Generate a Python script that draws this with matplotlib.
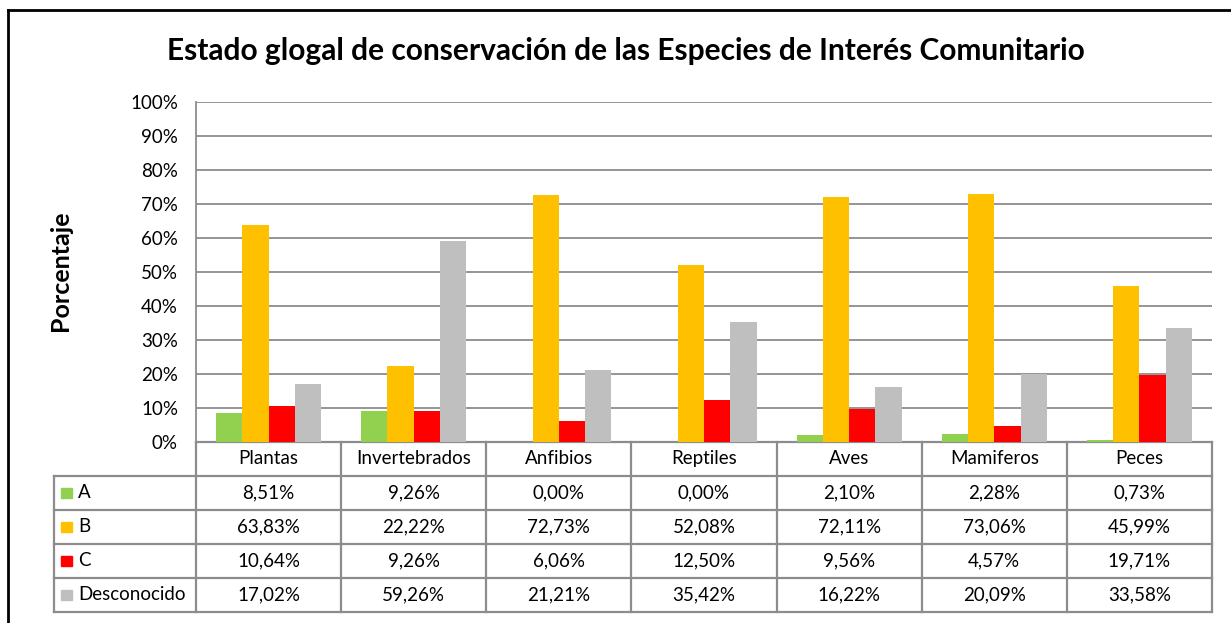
import matplotlib
matplotlib.use("Agg")
import matplotlib.pyplot as plt
from matplotlib.lines import Line2D
from matplotlib.patches import Rectangle
import numpy as np

plt.rcParams['font.family'] = ['Lato', 'DejaVu Sans']

categories = ["Plantas", "Invertebrados", "Anfibios", "Reptiles", "Aves", "Mamiferos", "Peces"]
series_names = ["A", "B", "C", "Desconocido"]
vals_a = [8.51, 9.26, 0.00, 0.00, 2.10, 2.28, 0.73]
vals_b = [63.83, 22.22, 72.73, 52.08, 72.11, 73.06, 45.99]
vals_c = [10.64, 9.26, 6.06, 12.50, 9.56, 4.57, 19.71]
vals_d = [17.02, 59.26, 21.21, 35.42, 16.22, 20.09, 33.58]
yticks = [0, 10, 20, 30, 40, 50, 60, 70, 80, 90, 100]

colors = ["#92D050", "#FFC000", "#FF0000", "#BFBFBF"]
series = [vals_a, vals_b, vals_c, vals_d]
grid_col = "#8c8c8c"
fs = 13.5

W, H = 1231, 623
fig = plt.figure(figsize=(W / 100, H / 100), dpi=100)

# plot area in pixels
x0, x1, ytop, ybot = 196, 1212, 102, 442
ax = fig.add_axes([x0 / W, 1 - ybot / H, (x1 - x0) / W, (ybot - ytop) / H])

n = len(categories)
x = np.arange(n)
bw = 0.181
for k, (vals, col) in enumerate(zip(series, colors)):
	ax.bar(x + (k - 1.5) * bw, vals, width=bw, color=col, zorder=3)

ax.set_xlim(-0.5, n - 0.5)
ax.set_ylim(0, 100)
ax.set_yticks(yticks)
ax.set_yticklabels(["%d%%" % t for t in yticks], fontsize=fs)
ax.set_xticks([])
ax.tick_params(axis='y', length=0, pad=13)
ax.yaxis.grid(True, color=grid_col, lw=1.3, zorder=0)
for s in ["top", "right", "bottom"]:
	ax.spines[s].set_visible(False)
ax.spines["left"].set_color(grid_col)
ax.spines["left"].set_linewidth(1.3)

fig.text(60 / W, 1 - 271 / H, "Porcentaje", rotation=90, ha="center", va="center",
		 fontsize=18, fontweight="bold")

fig.text(626 / W, 1 - 51 / H, "Estado glogal de conservación de las Especies de Interés Comunitario",
		 ha="center", va="center", fontsize=21.5, fontweight="bold")

# data table below the axis (x in data units, y in axes fraction)
tr = ax.get_xaxis_transform()
rh = 34.0 / (ybot - ytop)
left = -0.5 - 142.0 / 145.14
lkw = dict(color=grid_col, lw=1.6, transform=tr, clip_on=False)

# vertical lines
for i in range(n + 1):
	ax.add_line(Line2D([i - 0.5, i - 0.5], [0, -5 * rh], **lkw))
ax.add_line(Line2D([left, left], [-rh, -5 * rh], **lkw))
# horizontal lines
ax.add_line(Line2D([-0.5, n - 0.5], [0, 0], **lkw))
for r in range(1, 6):
	ax.add_line(Line2D([left, n - 0.5], [-r * rh, -r * rh], **lkw))

for i, cat in enumerate(categories):
	ax.text(i, -0.5 * rh - 0.016, cat, transform=tr, ha="center", va="baseline", fontsize=fs)

for r, (name, vals, col) in enumerate(zip(series_names, series, colors)):
	yc = -(r + 1.5) * rh
	ax.add_patch(Rectangle((left + 0.05, yc - 0.016), 0.075, 0.032, color=col,
						   transform=tr, clip_on=False))
	ax.text(left + 0.165, yc - 0.016, name, transform=tr, ha="left", va="baseline", fontsize=fs)
	for i, v in enumerate(vals):
		ax.text(i, yc - 0.016, ("%.2f%%" % v).replace(".", ","), transform=tr,
				ha="center", va="baseline", fontsize=fs)

# outer chart border (cropped on the right and bottom)
fig.add_artist(Line2D([8 / W, 8 / W], [0, 1 - 10 / H], color="black", lw=2, transform=fig.transFigure))
fig.add_artist(Line2D([8 / W, 1], [1 - 10 / H, 1 - 10 / H], color="black", lw=2, transform=fig.transFigure))

fig.savefig("out.png", dpi=100)
